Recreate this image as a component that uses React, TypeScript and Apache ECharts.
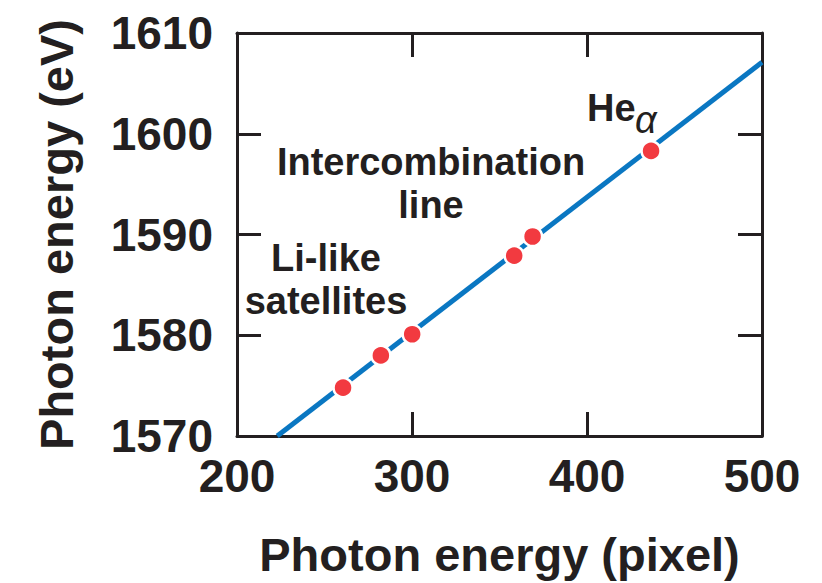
import React, { useEffect, useRef } from "react";
import * as echarts from "echarts";

// ---- data ----
const xTicks = [200, 300, 400, 500];
const yTicks = [1570, 1580, 1590, 1600, 1610];
const pixelPositions = [260.6, 282.2, 300.1, 358.4, 368.9, 436.6];
const photonEnergies = [1574.8, 1578.0, 1580.1, 1587.9, 1589.8, 1598.3];
const fitPixels = [223, 500];
const fitEnergies = [1570, 1607.1];
const xTitle = "Photon energy (pixel)";
const yTitle = "Photon energy (eV)";

const FONT = "'Liberation Sans', Arial, Helvetica, sans-serif";
const INK = "#231f20";
const BLUE = "#0a77c2";
const RED = "#f23a40";

export default function App() {
  const ref = useRef<HTMLDivElement>(null);
  useEffect(() => {
    document.body.style.margin = "0";
    if (!ref.current) return;
    const chart = echarts.init(ref.current, null, { renderer: "svg" });
    const axisCommon = {
      type: "value" as const,
      axisLine: { show: true, onZero: false, lineStyle: { color: INK, width: 3 } },
      axisTick: { show: true, inside: true, length: 24, lineStyle: { color: INK, width: 3 } },
      splitLine: { show: false },
    };
    const labelStyle = {
      color: INK,
      fontSize: 46,
      fontWeight: "bold" as const,
      fontFamily: FONT,
      formatter: (v: number) => String(v),
    };
    const nameStyle = { color: INK, fontSize: 47, fontWeight: "bold" as const, fontFamily: FONT };
    const textStyle = { fill: INK, fontSize: 38, fontWeight: "bold", fontFamily: FONT };
    chart.setOption({
      animation: false,
      backgroundColor: "#ffffff",
      grid: { left: 237, right: 60, top: 33, bottom: 146.5, containLabel: false },
      xAxis: [
        {
          ...axisCommon,
          min: xTicks[0],
          max: xTicks[xTicks.length - 1],
          interval: xTicks[1] - xTicks[0],
          position: "bottom",
          axisLabel: { ...labelStyle, margin: 17 },
          name: xTitle,
          nameLocation: "middle",
          nameGap: 95,
          nameTextStyle: nameStyle,
        },
        {
          ...axisCommon,
          min: xTicks[0],
          max: xTicks[xTicks.length - 1],
          interval: xTicks[1] - xTicks[0],
          position: "top",
          axisLabel: { show: false },
        },
      ],
      yAxis: [
        {
          ...axisCommon,
          min: yTicks[0],
          max: yTicks[yTicks.length - 1],
          interval: yTicks[1] - yTicks[0],
          position: "left",
          axisLabel: { ...labelStyle, margin: 24 },
          name: yTitle,
          nameLocation: "middle",
          nameGap: 157,
          nameTextStyle: nameStyle,
        },
        {
          ...axisCommon,
          min: yTicks[0],
          max: yTicks[yTicks.length - 1],
          interval: yTicks[1] - yTicks[0],
          position: "right",
          axisLabel: { show: false },
        },
      ],
      series: [
        {
          type: "line",
          data: fitPixels.map((x, i) => [x, fitEnergies[i]]),
          showSymbol: false,
          lineStyle: { color: BLUE, width: 5 },
          z: 2,
        },
        {
          type: "scatter",
          data: pixelPositions.map((x, i) => [x, photonEnergies[i]]),
          symbolSize: 19,
          itemStyle: { color: RED, borderColor: "#ffffff", borderWidth: 2.5, opacity: 1 },
          z: 3,
        },
      ],
      graphic: [
        { type: "text", x: 587, y: 108, style: { ...textStyle, text: "He", align: "left", verticalAlign: "middle" } },
        {
          type: "text",
          x: 635,
          y: 120,
          style: { fill: INK, fontSize: 38, fontStyle: "italic", fontFamily: FONT, text: "α", align: "left", verticalAlign: "middle" },
        },
        { type: "text", x: 431, y: 162, style: { ...textStyle, text: "Intercombination", align: "center", verticalAlign: "middle" } },
        { type: "text", x: 431, y: 205, style: { ...textStyle, text: "line", align: "center", verticalAlign: "middle" } },
        { type: "text", x: 326, y: 258, style: { ...textStyle, text: "Li-like", align: "center", verticalAlign: "middle" } },
        { type: "text", x: 326, y: 301, style: { ...textStyle, text: "satellites", align: "center", verticalAlign: "middle" } },
      ],
    });
    return () => chart.dispose();
  }, []);
  return <div ref={ref} style={{ position: "fixed", left: 0, top: 0, width: 822, height: 583 }} />;
}
